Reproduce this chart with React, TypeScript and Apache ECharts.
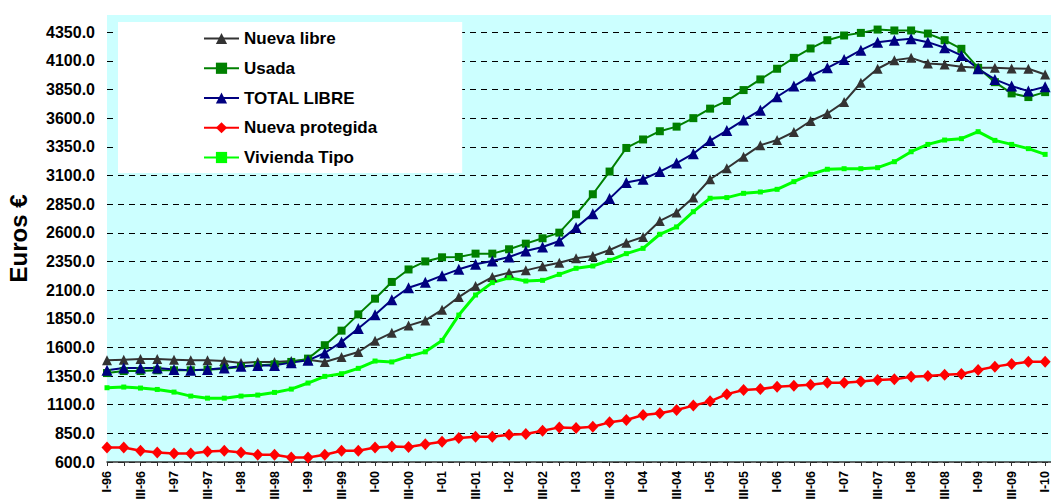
import React, { useEffect, useRef } from "react";
import * as echarts from "echarts";

const quarters = [
  "I-96", "II-96", "III-96", "IV-96",
  "I-97", "II-97", "III-97", "IV-97",
  "I-98", "II-98", "III-98", "IV-98",
  "I-99", "II-99", "III-99", "IV-99",
  "I-00", "II-00", "III-00", "IV-00",
  "I-01", "II-01", "III-01", "IV-01",
  "I-02", "II-02", "III-02", "IV-02",
  "I-03", "II-03", "III-03", "IV-03",
  "I-04", "II-04", "III-04", "IV-04",
  "I-05", "II-05", "III-05", "IV-05",
  "I-06", "II-06", "III-06", "IV-06",
  "I-07", "II-07", "III-07", "IV-07",
  "I-08", "II-08", "III-08", "IV-08",
  "I-09", "II-09", "III-09", "IV-09",
  "I-10",
];

const nuevaLibre = [
  1487, 1493, 1499, 1499, 1493, 1487, 1487, 1481, 1464, 1473,
  1473, 1481, 1493, 1473, 1516, 1560, 1657, 1727, 1790, 1835,
  1928, 2039, 2135, 2214, 2252, 2272, 2307, 2339, 2377, 2397,
  2450, 2514, 2563, 2703, 2776, 2907, 3067, 3163, 3264, 3363,
  3409, 3479, 3575, 3641, 3740, 3909, 4031, 4106, 4126, 4077,
  4068, 4048, 4039, 4039, 4033, 4031, 3981,
];

const usada = [
  1376, 1394, 1394, 1400, 1400, 1400, 1405, 1414, 1429, 1443,
  1452, 1473, 1502, 1619, 1746, 1888, 2025, 2171, 2280, 2350,
  2386, 2389, 2418, 2418, 2456, 2505, 2552, 2601, 2761, 2936,
  3134, 3340, 3414, 3486, 3526, 3600, 3683, 3750, 3845, 3938,
  4031, 4126, 4208, 4280, 4321, 4344, 4373, 4365, 4365, 4338,
  4280, 4205, 4039, 3914, 3816, 3784, 3827,
];

const totalLibre = [
  1400, 1420, 1420, 1420, 1408, 1400, 1408, 1420, 1435, 1443,
  1443, 1467, 1487, 1551, 1648, 1765, 1885, 2016, 2120, 2168,
  2226, 2281, 2325, 2354, 2389, 2441, 2476, 2528, 2645, 2767,
  2898, 3038, 3067, 3134, 3208, 3290, 3404, 3492, 3583, 3670,
  3787, 3880, 3967, 4039, 4112, 4193, 4263, 4280, 4292, 4263,
  4214, 4147, 4031, 3938, 3880, 3836, 3874,
];

const nuevaProtegida = [
  727, 727, 698, 683, 675, 675, 692, 698, 683, 663,
  663, 640, 640, 663, 698, 698, 727, 736, 730, 754,
  777, 809, 821, 821, 838, 844, 873, 902, 897, 908,
  946, 966, 1010, 1025, 1054, 1092, 1129, 1192, 1228, 1236,
  1257, 1265, 1274, 1292, 1292, 1303, 1315, 1321, 1344, 1350,
  1362, 1367, 1402, 1432, 1455, 1475, 1475,
];

const viviendaTipo = [
  1248, 1254, 1245, 1233, 1210, 1175, 1157, 1157, 1175, 1184,
  1207, 1236, 1289, 1347, 1370, 1417, 1481, 1473, 1522, 1561,
  1661, 1882, 2057, 2165, 2208, 2179, 2185, 2237, 2290, 2310,
  2359, 2418, 2464, 2587, 2651, 2784, 2901, 2907, 2944, 2956,
  2979, 3046, 3110, 3154, 3159, 3159, 3168, 3220, 3307, 3371,
  3409, 3421, 3482, 3406, 3371, 3334, 3284,
];

const FONT = "'Liberation Sans', Arial, sans-serif";

const toPairs = (arr: number[]) => arr.map((v, i) => [i, v]);

export default function App() {
  const ref = useRef<HTMLDivElement>(null);

  useEffect(() => {
    if (!ref.current) return;
    const chart = echarts.init(ref.current, undefined, { renderer: "svg" });
    const option: any = {
      animation: false,
      backgroundColor: "#ffffff",
      grid: {
        left: 107,
        right: 0,
        top: 15,
        bottom: 38,
        show: true,
        backgroundColor: "#CCFFFF",
        borderWidth: 0,
        containLabel: false,
        outerBoundsMode: "none",
      },
      legend: {
        orient: "vertical",
        left: 118,
        top: 22,
        padding: [8, 85, 7, 85],
        backgroundColor: "#ffffff",
        itemWidth: 35,
        itemHeight: 14,
        itemGap: 12.75,
        textStyle: {
          fontFamily: FONT,
          fontWeight: "bold",
          fontSize: 17,
          color: "#000",
        },
        data: ["Nueva libre", "Usada", "TOTAL LIBRE", "Nueva protegida", "Vivienda Tipo"],
      },
      xAxis: {
        type: "value",
        min: 0,
        max: 56.35,
        interval: 1,
        axisLine: { show: true, lineStyle: { color: "#333", width: 1.5 } },
        axisTick: { show: true, length: 4, lineStyle: { color: "#333" } },
        splitLine: { show: false },
        axisLabel: {
          rotate: 90,
          margin: 9,
          showMaxLabel: false,
          fontFamily: FONT,
          fontWeight: "bold",
          fontSize: 12.5,
          color: "#000",
          formatter: (v: number) =>
            Number.isInteger(v) && v % 2 === 0 && quarters[v] ? quarters[v] : "",
        },
      },
      yAxis: {
        type: "value",
        min: 600,
        max: 4500,
        interval: 250,
        name: "Euros €",
        nameLocation: "middle",
        nameGap: 77,
        nameTextStyle: {
          fontFamily: FONT,
          fontWeight: "bold",
          fontSize: 24,
          color: "#000",
        },
        axisLine: { show: false },
        axisTick: { show: false },
        splitLine: {
          show: true,
          showMaxLine: false,
          lineStyle: { color: "#000", type: [6, 5], width: 1 },
        },
        axisLabel: {
          margin: 12,
          showMaxLabel: false,
          fontFamily: FONT,
          fontWeight: "bold",
          fontSize: 16,
          color: "#000",
          formatter: (v: number) => v.toFixed(1),
        },
      },
      series: [
        {
          name: "Nueva libre",
          type: "line",
          data: toPairs(nuevaLibre),
          symbol: "triangle",
          symbolSize: 10,
          lineStyle: { color: "#333333", width: 2 },
          itemStyle: { color: "#333333" },
        },
        {
          name: "Usada",
          type: "line",
          data: toPairs(usada),
          symbol: "rect",
          symbolSize: 8,
          lineStyle: { color: "#008000", width: 2 },
          itemStyle: { color: "#008000" },
        },
        {
          name: "TOTAL LIBRE",
          type: "line",
          data: toPairs(totalLibre),
          symbol: "triangle",
          symbolSize: 11,
          lineStyle: { color: "#000080", width: 2 },
          itemStyle: { color: "#000080" },
        },
        {
          name: "Nueva protegida",
          type: "line",
          data: toPairs(nuevaProtegida),
          symbol: "diamond",
          symbolSize: [11, 12],
          lineStyle: { color: "#FF0000", width: 2.5 },
          itemStyle: { color: "#FF0000" },
        },
        {
          name: "Vivienda Tipo",
          type: "line",
          data: toPairs(viviendaTipo),
          symbol: "rect",
          symbolSize: 5,
          lineStyle: { color: "#00FF00", width: 3 },
          itemStyle: { color: "#00FF00" },
        },
      ],
    };
    chart.setOption(option);
    return () => chart.dispose();
  }, []);

  return (
    <div
      ref={ref}
      style={{ position: "fixed", left: 0, top: 0, width: 1051, height: 500 }}
    />
  );
}
